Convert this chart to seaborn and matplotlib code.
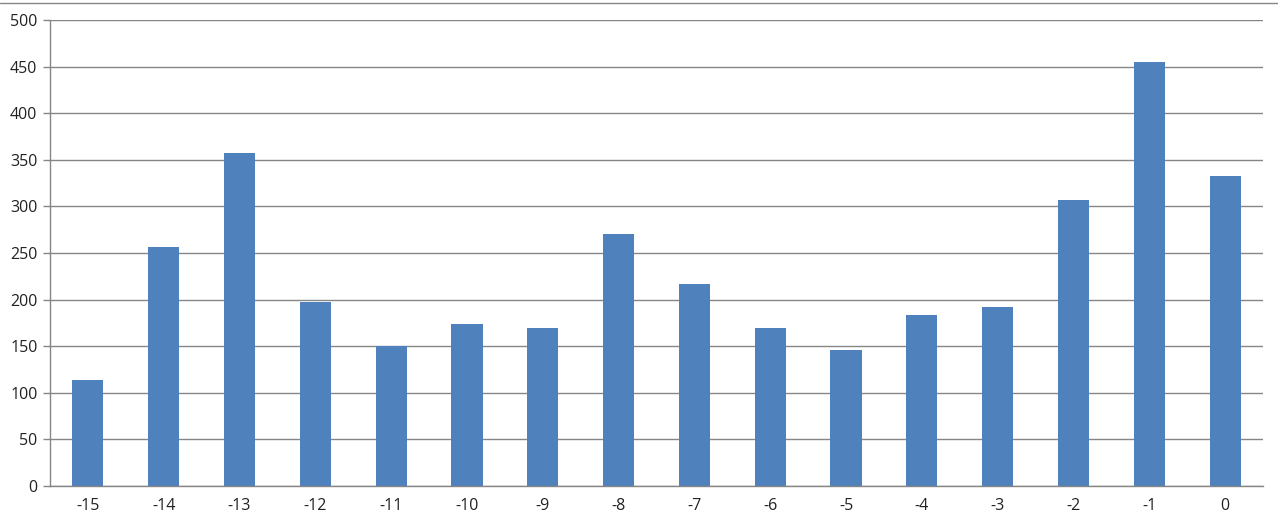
import matplotlib
matplotlib.use("Agg")
import matplotlib.pyplot as plt
import pandas as pd
import seaborn as sns
from matplotlib.lines import Line2D

DAYS = ["-15", "-14", "-13", "-12", "-11", "-10", "-9", "-8",
        "-7", "-6", "-5", "-4", "-3", "-2", "-1", "0"]
COUNTS = [114, 256, 357, 197, 150, 174, 170, 270,
          217, 170, 146, 184, 192, 307, 455, 333]

BAR_COLOR = "#4F81BD"
GRID_COLOR = "#868686"


def main() -> None:
    df = pd.DataFrame({"day": DAYS, "count": COUNTS})

    sns.set_theme(style="white")
    plt.rcParams["font.family"] = ["Open Sans", "DejaVu Sans"]

    fig = plt.figure(figsize=(12.78, 5.28), dpi=100)
    ax = fig.add_axes([50 / 1278, 42 / 528, 1213 / 1278, 466 / 528])
    sns.barplot(data=df, x="day", y="count", order=DAYS, color=BAR_COLOR,
                width=0.41, saturation=1, linewidth=0, ax=ax)

    ax.set_xlim(-0.5, len(DAYS) - 0.5)
    ax.set_ylim(0, 500)
    ax.set_yticks(range(0, 501, 50))
    ax.set_xlabel("")
    ax.set_ylabel("")
    ax.yaxis.grid(True, color=GRID_COLOR, linewidth=1)
    ax.set_axisbelow(True)

    for side in ["top", "right"]:
        ax.spines[side].set_visible(False)
    for side in ["left", "bottom"]:
        ax.spines[side].set_color(GRID_COLOR)
        ax.spines[side].set_linewidth(1)

    # category separators as minor ticks below the axis
    ax.set_xticks([i - 0.5 for i in range(len(DAYS) + 1)], minor=True)
    ax.tick_params(axis="x", which="minor", direction="out", length=6,
                   color=GRID_COLOR, width=1)
    ax.tick_params(axis="x", which="major", length=0, pad=9, labelsize=11.5,
                   labelcolor="#222222")
    ax.tick_params(axis="y", direction="out", length=5, color=GRID_COLOR,
                   width=1, pad=4, labelsize=11.5, left=True,
                   labelcolor="#222222")

    # thin border line left over at the top edge of the image
    fig.add_artist(Line2D([0, 1], [1 - 2.5 / 528, 1 - 2.5 / 528],
                          transform=fig.transFigure, color=GRID_COLOR,
                          linewidth=1))

    fig.savefig("out.png", dpi=100)
    plt.close(fig)


if __name__ == "__main__":
    main()
